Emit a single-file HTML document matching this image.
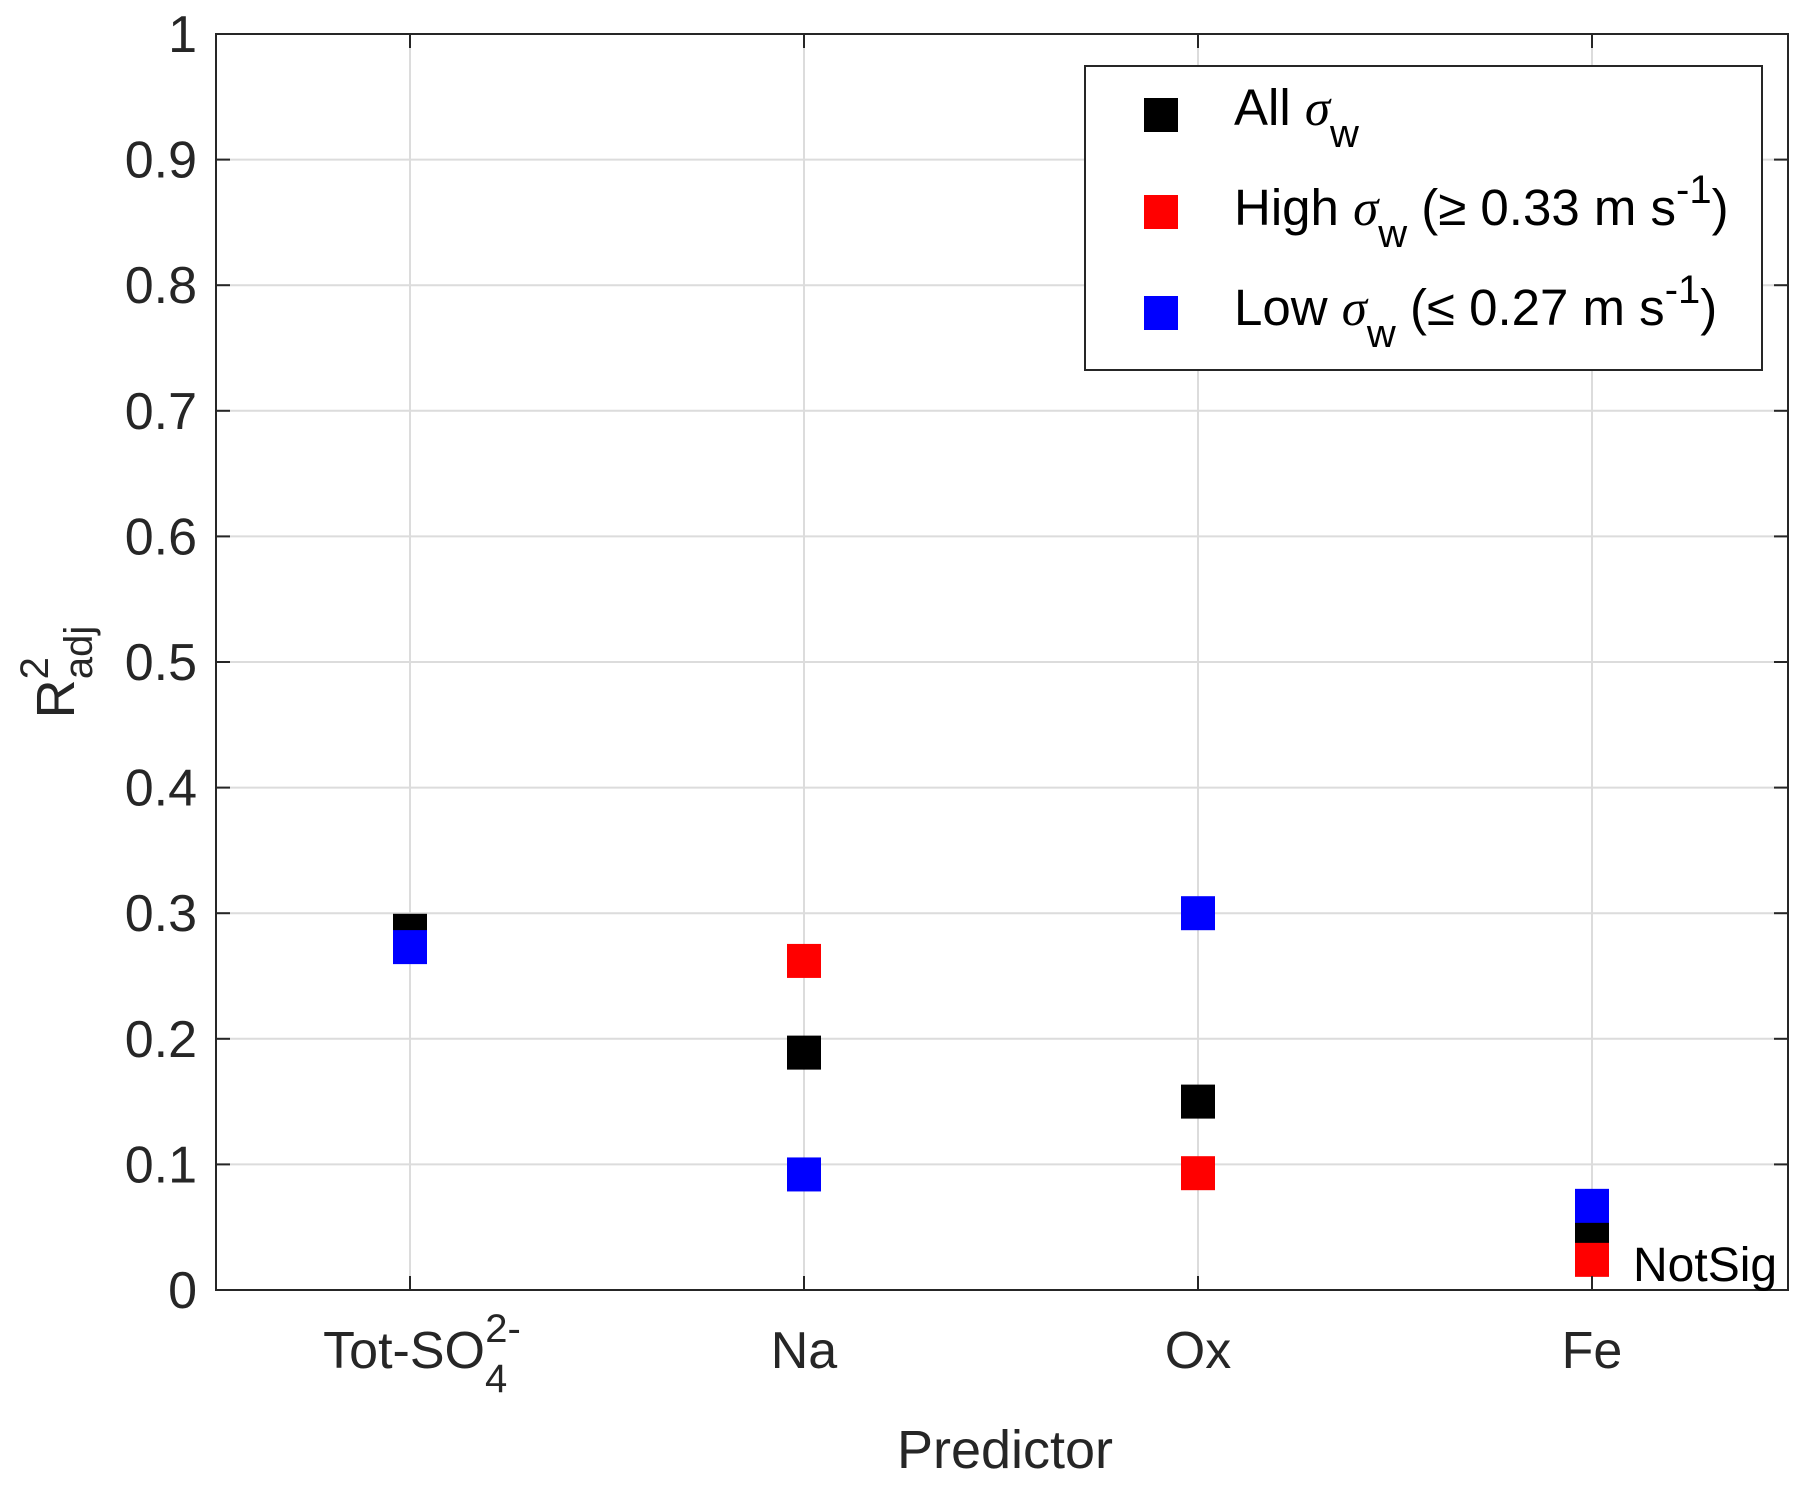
<!DOCTYPE html>
<html><head><meta charset="utf-8"><style>
body{margin:0;background:#fff;}
svg{display:block;font-family:"Liberation Sans",sans-serif;}
</style></head><body>
<svg id="chart" width="1807" height="1486" viewBox="0 0 1807 1486">
<rect x="0" y="0" width="1807" height="1486" fill="#fff"/>
<g id="grid"></g>
<g id="marks"></g>
<g id="axes"></g>
<g id="legend">
<rect x="1085" y="66" width="677" height="304" fill="#fff" stroke="#262626" stroke-width="2"/>
<rect x="1144" y="98" width="34" height="34" fill="#000"/>
<rect x="1144" y="195" width="34" height="34" fill="#f00"/>
<rect x="1144" y="296" width="34" height="34" fill="#00f"/>
<text x="1234" y="125" font-size="51" fill="#000">All <tspan font-family="Liberation Serif" font-style="italic">σ</tspan><tspan font-size="40" dy="22">w</tspan></text>
<text x="1234" y="225" font-size="51" fill="#000">High <tspan font-family="Liberation Serif" font-style="italic">σ</tspan><tspan font-size="40" dy="22">w</tspan><tspan dy="-22"> (≥ 0.33 m s</tspan><tspan font-size="40" dy="-22">-1</tspan><tspan dy="22">)</tspan></text>
<text x="1234" y="325" font-size="51" fill="#000">Low <tspan font-family="Liberation Serif" font-style="italic">σ</tspan><tspan font-size="40" dy="22">w</tspan><tspan dy="-22"> (≤ 0.27 m s</tspan><tspan font-size="40" dy="-22">-1</tspan><tspan dy="22">)</tspan></text>
</g>
<text x="1633" y="1281" font-size="48" fill="#000">NotSig</text>
<text x="1005" y="1468" font-size="54" fill="#262626" text-anchor="middle">Predictor</text>
<text transform="translate(74,672) rotate(-90)" font-size="54" fill="#262626" text-anchor="middle">R<tspan font-size="40" dy="-26">2</tspan><tspan font-size="40" dx="-22" dy="44">adj</tspan></text>
</svg>
<script>
const categories = ["Tot-SO4", "Na", "Ox", "Fe"];
const allValues = [0.286, 0.189, 0.150, 0.045];
const highValues = [null, 0.262, 0.093, 0.024];
const lowValues = [0.273, 0.092, 0.300, 0.067];
const yTicks = [0, 0.1, 0.2, 0.3, 0.4, 0.5, 0.6, 0.7, 0.8, 0.9, 1];
const yTickLabels = ["0", "0.1", "0.2", "0.3", "0.4", "0.5", "0.6", "0.7", "0.8", "0.9", "1"];

const L = 216, R = 1788, T = 34, B = 1290;
const NS = "http://www.w3.org/2000/svg";
function xPos(i){ return 410 + i * 394; }
function yPos(v){ return B - v * (B - T); }
function mk(tag, attrs, parent){ const e = document.createElementNS(NS, tag); for (const k in attrs) e.setAttribute(k, attrs[k]); parent.appendChild(e); return e; }
const grid = document.getElementById('grid'), axes = document.getElementById('axes'), marks = document.getElementById('marks');

yTicks.forEach((t, i) => {
  const y = yPos(t);
  const g = mk('line', {x1: L, x2: R, y1: y, y2: y, stroke: '#dcdcdc', 'stroke-width': 2}, grid);
  
  
  mk('line', {x1: L, x2: L + 14, y1: y, y2: y, stroke: '#262626', 'stroke-width': 2}, axes);
  mk('line', {x1: R - 14, x2: R, y1: y, y2: y, stroke: '#262626', 'stroke-width': 2}, axes);
  const tx = mk('text', {x: 197, y: y + 18, 'font-size': 52, fill: '#262626', 'text-anchor': 'end'}, axes);
  tx.textContent = yTickLabels[i];
  
  
});
categories.forEach((c, i) => {
  const x = xPos(i);
  const g = mk('line', {x1: x, x2: x, y1: T, y2: B, stroke: '#dcdcdc', 'stroke-width': 2}, grid);
  
  
  mk('line', {x1: x, x2: x, y1: B - 14, y2: B, stroke: '#262626', 'stroke-width': 2}, axes);
  mk('line', {x1: x, x2: x, y1: T, y2: T + 14, stroke: '#262626', 'stroke-width': 2}, axes);
  const tx = mk('text', {x: x, y: 1368, 'font-size': 52, fill: '#262626', 'text-anchor': 'middle'}, axes);
  if (c === "Tot-SO4") {
    tx.innerHTML = 'Tot-SO<tspan font-size="40" dy="24">4</tspan><tspan font-size="40" dx="-22" dy="-50">2-</tspan>';
    tx.setAttribute('x', x + 12);
  } else tx.textContent = c;
  
  
});
const frame = mk('rect', {x: L, y: T, width: R - L, height: B - T, fill: 'none', stroke: '#262626', 'stroke-width': 2}, axes);



const S = 34;
function drawSeries(vals, color, name){
  vals.forEach((v, i) => {
    if (v === null) return;
    const r = mk('rect', {x: xPos(i) - S/2, y: yPos(v) - S/2, width: S, height: S, fill: color}, marks);
    
    
  });
}
drawSeries(allValues, '#000', 'all-sigma');
drawSeries(highValues, '#f00', 'high-sigma');
drawSeries(lowValues, '#00f', 'low-sigma');
</script>
</body></html>
